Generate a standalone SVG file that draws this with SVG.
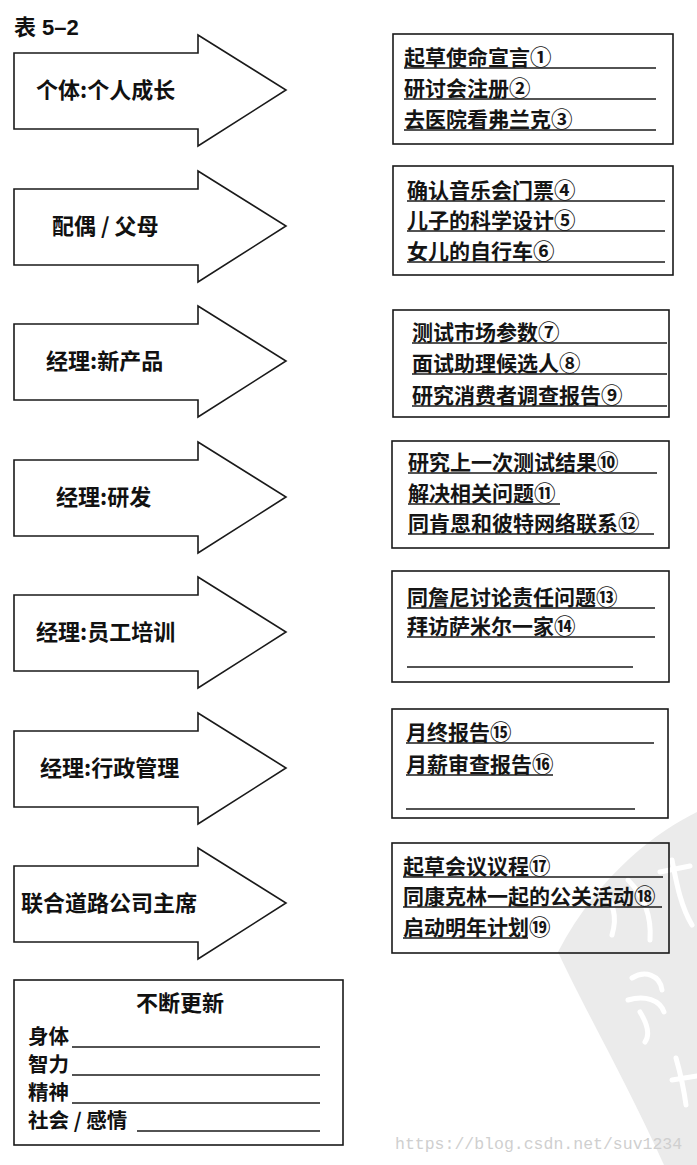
<svg xmlns="http://www.w3.org/2000/svg" xmlns:xlink="http://www.w3.org/1999/xlink" width="697" height="1165" viewBox="0 0 697 1165">
<style>
.bg{fill:#ffffff}
.shape{fill:none;stroke:#1a1a1a;stroke-width:1.6}
.ul{stroke:#1a1a1a;stroke-width:1.4}
.lbl{font-family:"Noto Sans CJK SC","Liberation Sans",sans-serif;font-size:22px;font-weight:700;fill:#111}
.row{font-family:"Noto Sans CJK SC","Liberation Sans",sans-serif;font-size:20.5px;font-weight:700;fill:#111}
.item{font-family:"Noto Sans CJK SC","Liberation Sans",sans-serif;font-size:21px;font-weight:700;fill:#151515}
.num{font-size:21.5px}
.title{font-family:"Liberation Sans","Noto Sans CJK SC",sans-serif;font-size:22px;font-weight:700;fill:#111}
.wm{font-family:"Liberation Mono","DejaVu Sans Mono",monospace;font-size:16.5px;fill:#cfcfcf}
.wmshape{fill:#ebebeb}
.wmstroke{fill:none;stroke:#ffffff;stroke-width:5;stroke-linecap:round;stroke-linejoin:round}
</style>
<defs>
<path id="arrowShape" d="M14 -37 L198 -37 L198 -55 L286 0 L198 56 L198 39 L14 39 Z"/>
</defs>
<rect class="bg" x="0" y="0" width="697" height="1165"/>
<g id="watermark">
<path class="wmshape" d="M697 812 C660 830 600 872 558 952 C585 1010 628 1085 664 1165 L697 1165 Z"/>
<path class="wmstroke" d="M600 890 C612 900 618 915 612 935 M628 880 C640 892 652 912 650 940 M660 872 L690 866 M672 860 C676 880 680 905 692 925"/>
<path class="wmstroke" d="M632 978 C645 970 660 975 662 990 M628 1000 C645 995 660 1000 664 1012 M640 1012 C648 1025 650 1035 645 1042"/>
<path class="wmstroke" d="M676 1058 C680 1072 684 1090 686 1105 M672 1080 L697 1076"/>
<text class="wm" x="395" y="1149">https://blog.csdn.net/suv1234</text>
</g>
<g id="title"><text class="title" x="14" y="35">表 5–2</text></g>
<g id="connectors"></g>
<g id="arrow1"><use xlink:href="#arrowShape" class="shape" y="90"/><text class="lbl" x="36" y="98">个体:个人成长</text></g>
<g id="arrow2"><use xlink:href="#arrowShape" class="shape" y="226"/><text class="lbl" x="52" y="234">配偶 / 父母</text></g>
<g id="arrow3"><use xlink:href="#arrowShape" class="shape" y="361"/><text class="lbl" x="46" y="369">经理:新产品</text></g>
<g id="arrow4"><use xlink:href="#arrowShape" class="shape" y="497"/><text class="lbl" x="56" y="505">经理:研发</text></g>
<g id="arrow5"><use xlink:href="#arrowShape" class="shape" y="632"/><text class="lbl" x="36" y="640">经理:员工培训</text></g>
<g id="arrow6"><use xlink:href="#arrowShape" class="shape" y="768"/><text class="lbl" x="40" y="776">经理:行政管理</text></g>
<g id="arrow7"><use xlink:href="#arrowShape" class="shape" y="903"/><text class="lbl" x="21" y="911">联合道路公司主席</text></g>
<g id="box1">
<rect class="shape" x="393" y="34" width="280" height="110"/>
<text class="item" x="404" y="65">起草使命宣言<tspan class="num">①</tspan></text><line class="ul" x1="404" y1="68" x2="656" y2="68"/>
<text class="item" x="404" y="96">研讨会注册<tspan class="num">②</tspan></text><line class="ul" x1="404" y1="99" x2="656" y2="99"/>
<text class="item" x="404" y="127">去医院看弗兰克<tspan class="num">③</tspan></text><line class="ul" x1="404" y1="130" x2="656" y2="130"/>
</g>
<g id="box2">
<rect class="shape" x="393" y="166" width="280" height="109"/>
<text class="item" x="407" y="198">确认音乐会门票<tspan class="num">④</tspan></text><line class="ul" x1="407" y1="201" x2="665" y2="201"/>
<text class="item" x="407" y="228">儿子的科学设计<tspan class="num">⑤</tspan></text><line class="ul" x1="407" y1="231" x2="665" y2="231"/>
<text class="item" x="407" y="259">女儿的自行车<tspan class="num">⑥</tspan></text><line class="ul" x1="407" y1="262" x2="665" y2="262"/>
</g>
<g id="box3">
<rect class="shape" x="393" y="310" width="276" height="107"/>
<text class="item" x="412" y="340">测试市场参数<tspan class="num">⑦</tspan></text><line class="ul" x1="412" y1="343" x2="667" y2="343"/>
<text class="item" x="412" y="371">面试助理候选人<tspan class="num">⑧</tspan></text><line class="ul" x1="412" y1="374" x2="667" y2="374"/>
<text class="item" x="412" y="403">研究消费者调查报告<tspan class="num">⑨</tspan></text><line class="ul" x1="412" y1="406" x2="667" y2="406"/>
</g>
<g id="box4">
<rect class="shape" x="392" y="441" width="277" height="107"/>
<text class="item" x="408" y="470">研究上一次测试结果<tspan class="num">⑩</tspan></text><line class="ul" x1="408" y1="473" x2="657" y2="473"/>
<text class="item" x="408" y="501">解决相关问题<tspan class="num">⑪</tspan></text><line class="ul" x1="408" y1="504" x2="560" y2="504"/>
<text class="item" x="408" y="531">同肯恩和彼特网络联系<tspan class="num">⑫</tspan></text><line class="ul" x1="408" y1="534" x2="654" y2="534"/>
</g>
<g id="box5">
<rect class="shape" x="392" y="571" width="277" height="111"/>
<text class="item" x="407" y="605">同詹尼讨论责任问题<tspan class="num">⑬</tspan></text><line class="ul" x1="407" y1="608" x2="655" y2="608"/>
<text class="item" x="407" y="634">拜访萨米尔一家<tspan class="num">⑭</tspan></text><line class="ul" x1="407" y1="637" x2="655" y2="637"/>
<line class="ul" x1="407" y1="667" x2="633" y2="667"/>
</g>
<g id="box6">
<rect class="shape" x="392" y="709" width="276" height="109"/>
<text class="item" x="406" y="740">月终报告<tspan class="num">⑮</tspan></text><line class="ul" x1="406" y1="743" x2="654" y2="743"/>
<text class="item" x="406" y="772">月薪审查报告<tspan class="num">⑯</tspan></text><line class="ul" x1="406" y1="775" x2="553" y2="775"/>
<line class="ul" x1="406" y1="809" x2="635" y2="809"/>
</g>
<g id="box7">
<rect class="shape" x="392" y="843" width="277" height="110"/>
<text class="item" x="403" y="874">起草会议议程<tspan class="num">⑰</tspan></text><line class="ul" x1="403" y1="877" x2="663" y2="877"/>
<text class="item" x="403" y="904">同康克林一起的公关活动<tspan class="num">⑱</tspan></text><line class="ul" x1="403" y1="907" x2="662" y2="907"/>
<text class="item" x="403" y="935">启动明年计划<tspan class="num">⑲</tspan></text><line class="ul" x1="403" y1="938" x2="528" y2="938"/>
</g>
<g id="renewal">
<rect class="shape" x="14" y="980" width="329" height="165"/>
<text class="lbl" x="180" y="1011" text-anchor="middle">不断更新</text>
<text class="row" x="28" y="1044">身体</text><line class="ul" x1="72" y1="1047" x2="320" y2="1047"/>
<text class="row" x="28" y="1072">智力</text><line class="ul" x1="72" y1="1075" x2="320" y2="1075"/>
<text class="row" x="28" y="1100">精神</text><line class="ul" x1="72" y1="1103" x2="320" y2="1103"/>
<text class="row" x="28" y="1128">社会 / 感情</text><line class="ul" x1="137" y1="1131" x2="320" y2="1131"/>
</g>
</svg>
